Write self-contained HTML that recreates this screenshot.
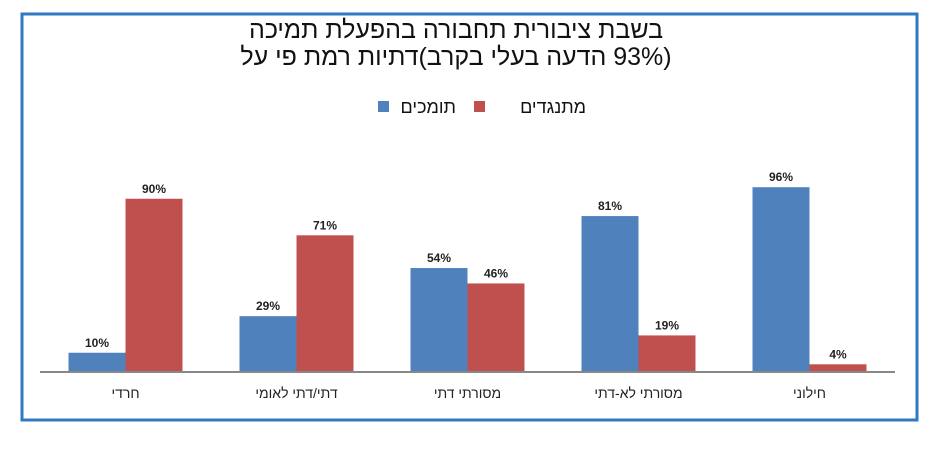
<!DOCTYPE html>
<html><head><meta charset="utf-8"><style>
body{margin:0;background:#fff;width:945px;height:451px;overflow:hidden;font-family:"Liberation Sans","Noto Sans CJK SC",sans-serif}
</style></head><body>
<svg width="945" height="451">
<rect x="22" y="14" width="895" height="406" fill="#fff" stroke="#2f78c4" stroke-width="3"/>
<text x="456" y="38" font-size="25" text-anchor="middle" direction="rtl" fill="#111">בשבת ציבורית תחבורה בהפעלת תמיכה</text>
<text x="456" y="65" font-size="25" text-anchor="middle" direction="rtl" fill="#111">(93% הדעה בעלי בקרב)דתיות רמת  פי על</text>
<g>
<rect x="378" y="101" width="11" height="11" fill="#4f81bd"/>
<text x="456" y="113" font-size="18" text-anchor="start" direction="rtl" fill="#111">תומכים</text>
<rect x="474" y="101" width="11" height="11" fill="#c0504d"/>
<text x="586" y="113" font-size="18" text-anchor="start" direction="rtl" fill="#111">מתנגדים</text>
</g>
<g id="bars"></g>
<line x1="40" y1="372" x2="895" y2="372" stroke="#888" stroke-width="2"/>
</svg>
<script>
const categories=["חרדי","דתי/דתי לאומי","מסורתי דתי","מסורתי לא-דתי","חילוני"];
const support=[10,29,54,81,96];
const oppose=[90,71,46,19,4];
const svg=document.querySelector('svg'),g=document.getElementById('bars');
const NS="http://www.w3.org/2000/svg";
const x0=40,gw=171,bw=57,base=372,scale=1.925;
const y=v=>base-v*scale;
function mk(t,a){const e=document.createElementNS(NS,t);for(const k in a)e.setAttribute(k,a[k]);return e;}
categories.forEach((c,i)=>{
  const cx=x0+gw*(i+0.5);
  [[support,"#4f81bd",cx-bw,"support"],[oppose,"#c0504d",cx,"oppose"]].forEach(([arr,col,bx,nm])=>{
    const r=mk('rect',{x:bx,y:y(arr[i]),width:bw,height:base-y(arr[i]),fill:col});
    
    
    g.appendChild(r);
    const t=mk('text',{x:bx+bw/2,y:y(arr[i])-6,'font-size':12,'font-weight':'bold','text-anchor':'middle',fill:'#222'});
    t.textContent=arr[i]+'%';
    
    
    g.appendChild(t);
  });
  const l=mk('text',{x:cx,y:398,'font-size':14,'text-anchor':'middle',direction:'rtl',fill:'#222'});
  l.textContent=c;
  
  
  g.appendChild(l);
});
</script>
</body></html>
